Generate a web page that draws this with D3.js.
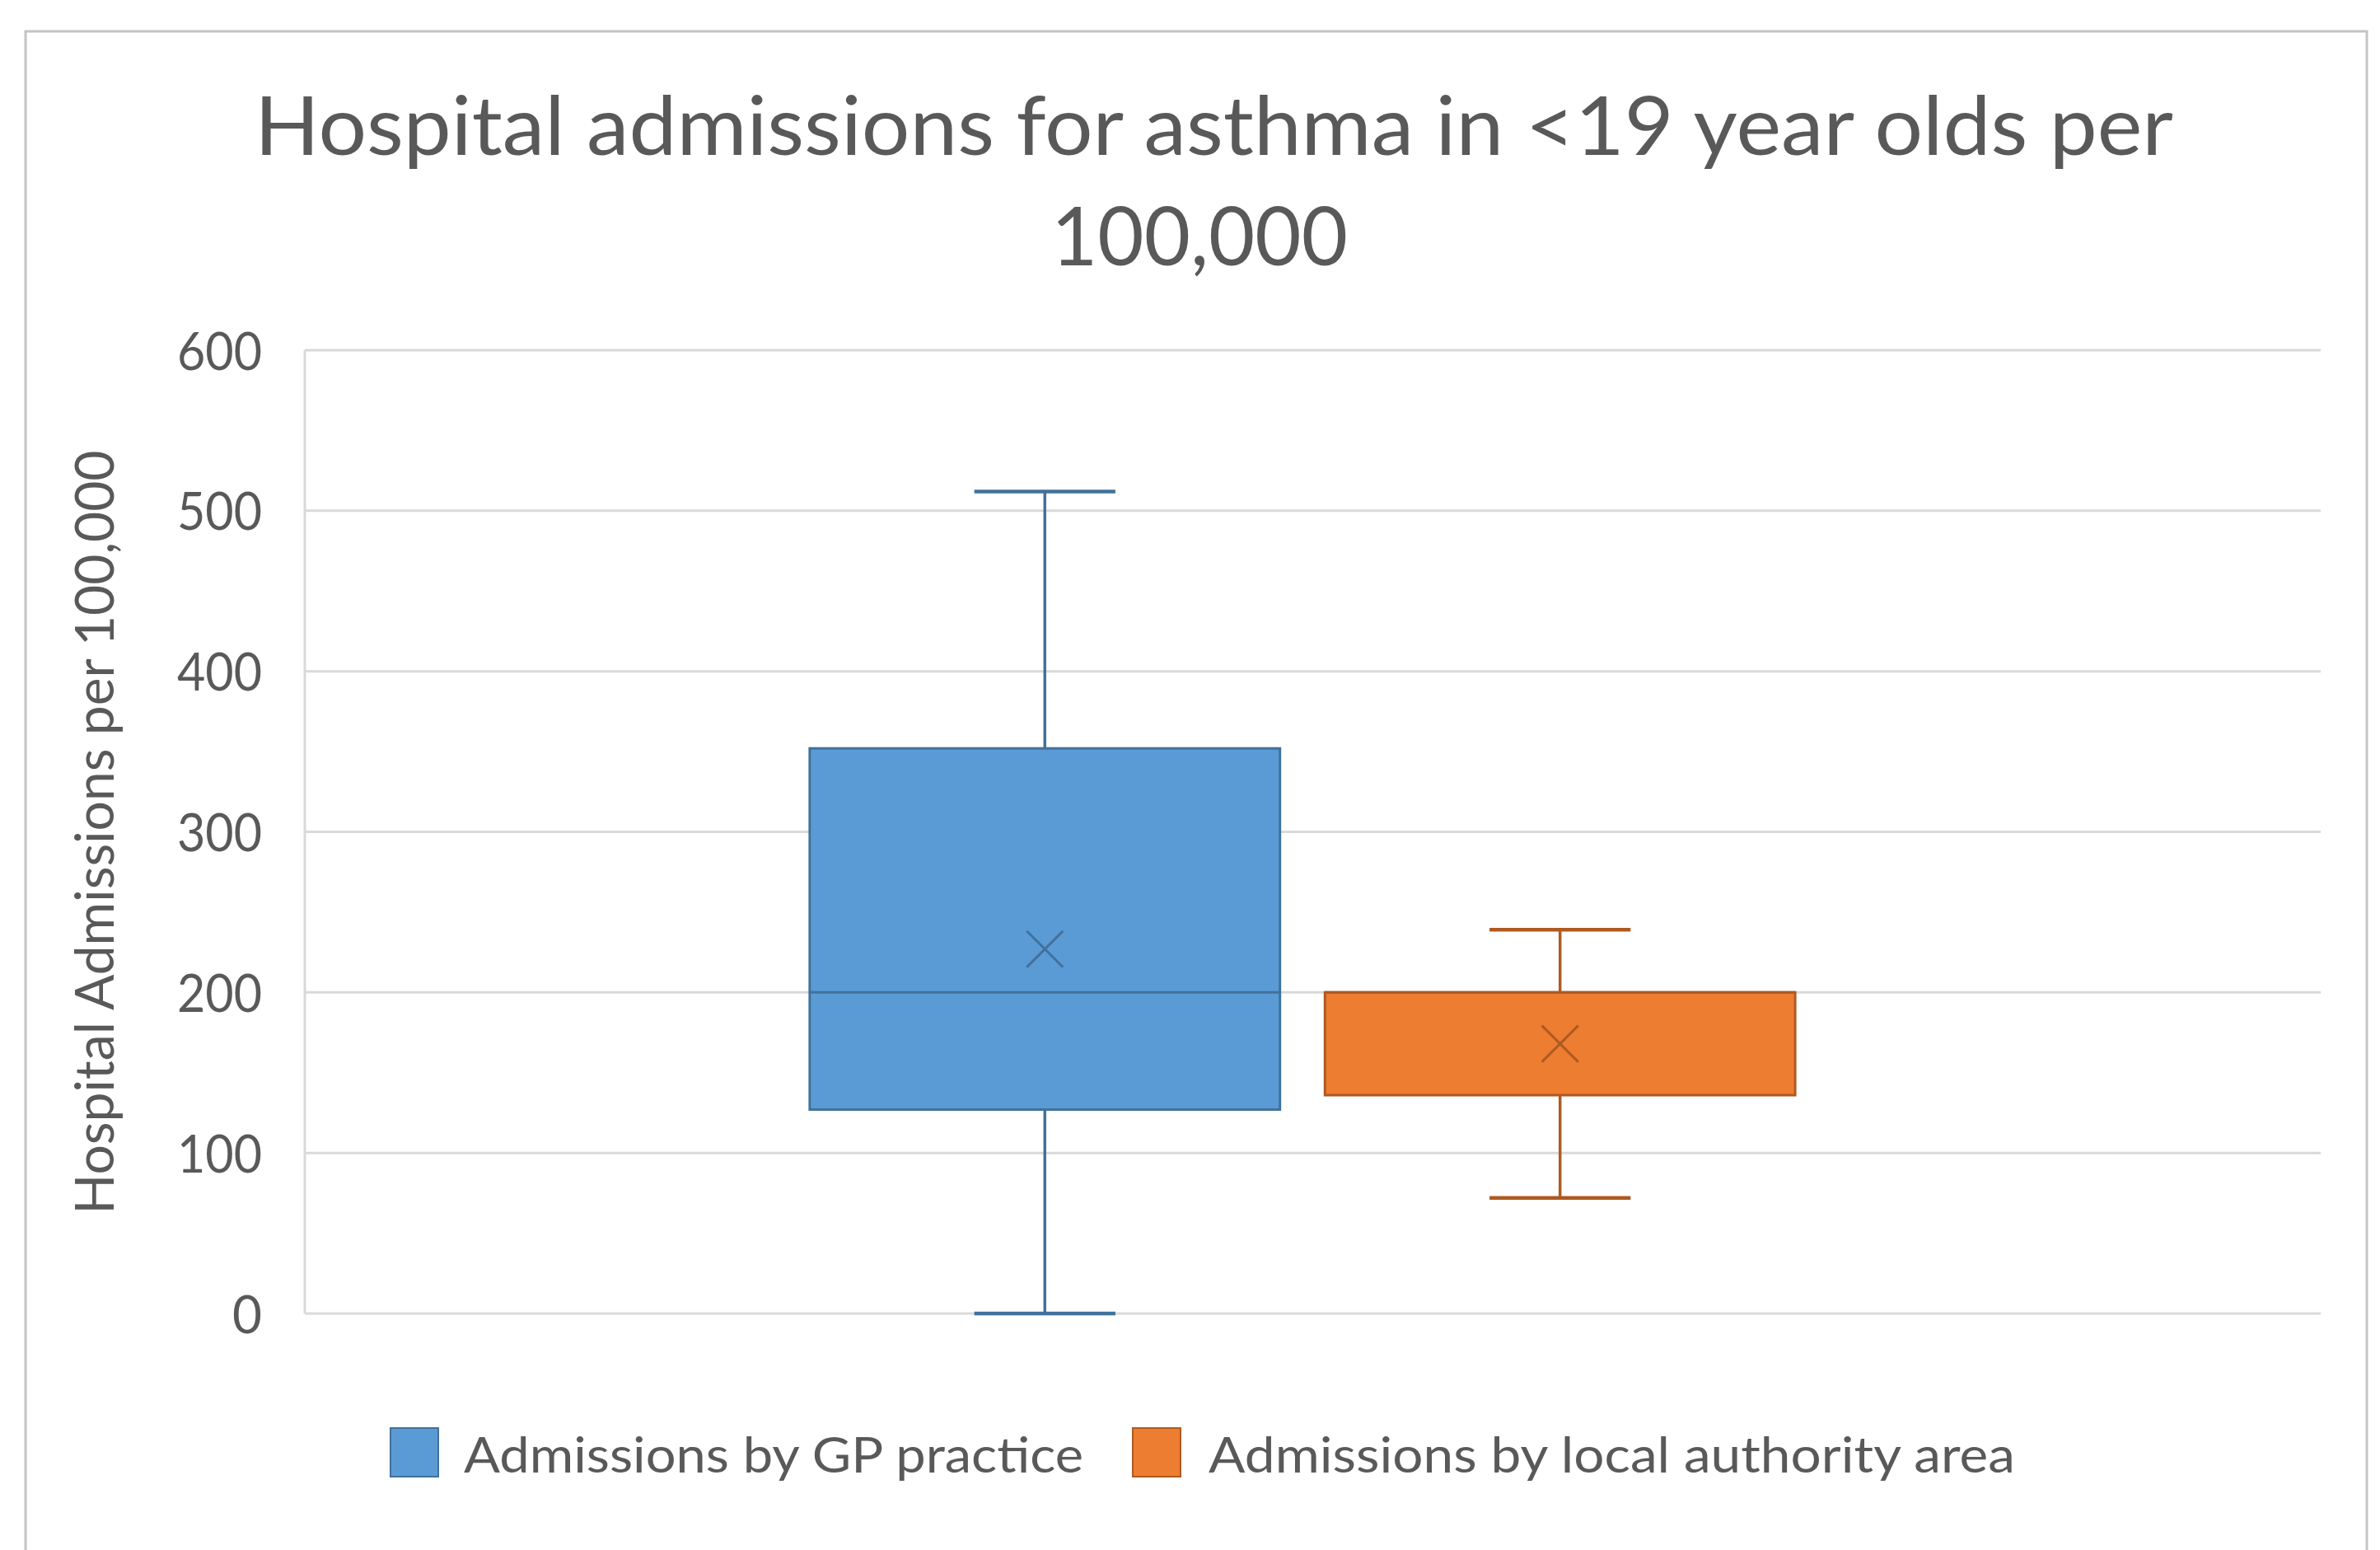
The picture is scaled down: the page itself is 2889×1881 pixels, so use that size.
<!DOCTYPE html>
<html>
<head>
<meta charset="utf-8">
<script src="https://cdn.jsdelivr.net/npm/d3@7"></script>
<style>
  html, body { margin: 0; padding: 0; background: #ffffff; }
  svg { display: block; }
  text { font-family: Lato, "Open Sans", sans-serif; fill: #595959; }
</style>
</head>
<body>
<script>
// ---- data ----
const categories = ["Admissions by GP practice", "Admissions by local authority area"];
const minValues    = [0, 72];
const q1Values     = [127, 136];
const medianValues = [200, 200];
const q3Values     = [352, 200];
const maxValues    = [512, 239];
const meanValues   = [227, 168];
const yTicks = [0, 100, 200, 300, 400, 500, 600];
const titleLines = ["Hospital admissions for asthma in <19 year olds per", "100,000"];
const yAxisTitle = "Hospital Admissions per 100,000";

// ---- styles ----
const fills   = ["#5B9BD5", "#ED7D31"];
const strokes = ["#41719C", "#AE5A21"];

const W = 2889, H = 1881;
const plot = { left: 370, right: 2817, top: 425, bottom: 1594 };

const svg = d3.select("body").append("svg").attr("width", W).attr("height", H);
svg.append("rect").attr("width", W).attr("height", H).attr("fill", "#fff");

// chart frame
svg.append("rect").attr("x", 31).attr("y", 38).attr("width", 2873 - 31).attr("height", H)
  .attr("fill", "#fff").attr("stroke", "#c4c4c4").attr("stroke-width", 3);

// title
svg.append("text").attr("x", 309).attr("y", 188).attr("font-size", 98)
  .attr("textLength", 2329).attr("lengthAdjust", "spacingAndGlyphs").text(titleLines[0]);
svg.append("text").attr("x", 1276).attr("y", 322).attr("font-size", 98)
  .attr("textLength", 360).attr("lengthAdjust", "spacingAndGlyphs").text(titleLines[1]);

// scales
const y = d3.scaleLinear().domain([0, 600]).range([plot.bottom, plot.top]);
const x = d3.scaleBand().domain(categories).range([plot.left, plot.right])
  .paddingInner(0.0873).paddingOuter(1.0).align(0.49);

// gridlines
svg.append("g").selectAll("line").data(yTicks).join("line")
  .attr("x1", plot.left).attr("x2", plot.right)
  .attr("y1", d => y(d)).attr("y2", d => y(d))
  .attr("stroke", "#d9d9d9").attr("stroke-width", 3);

// vertical axis line
svg.append("line").attr("x1", plot.left).attr("x2", plot.left)
  .attr("y1", plot.top).attr("y2", plot.bottom)
  .attr("stroke", "#d9d9d9").attr("stroke-width", 3);

// y axis ticks via d3 axis
const yAxis = svg.append("g").attr("transform", `translate(${plot.left},0)`)
  .call(d3.axisLeft(y).tickValues(yTicks).tickSize(0).tickPadding(52));
yAxis.select(".domain").remove();
yAxis.selectAll("text").attr("font-size", 64).attr("fill", "#595959")
  .style("font-family", "Lato, sans-serif")
  .attr("dy", "0.36em")
  .each(function(d) {
    const n = String(d).length;
    d3.select(this).attr("textLength", n === 1 ? 36 : 103).attr("lengthAdjust", "spacingAndGlyphs");
  });

// y axis title
svg.append("text").attr("transform", "translate(138,1010) rotate(-90)")
  .attr("text-anchor", "middle").attr("font-size", 66)
  .attr("textLength", 927).attr("lengthAdjust", "spacingAndGlyphs").text(yAxisTitle);

// boxes
const boxData = categories.map((c, i) => ({
  c, i, min: minValues[i], q1: q1Values[i], med: medianValues[i],
  q3: q3Values[i], max: maxValues[i], mean: meanValues[i]
}));
const bw = x.bandwidth();
const capW = bw * 0.3;
const g = svg.append("g").selectAll("g").data(boxData).join("g");

// whiskers
g.append("line").attr("x1", d => x(d.c) + bw / 2).attr("x2", d => x(d.c) + bw / 2)
  .attr("y1", d => y(d.q3)).attr("y2", d => y(d.max))
  .attr("stroke", d => strokes[d.i]).attr("stroke-width", 3.5);
g.append("line").attr("x1", d => x(d.c) + bw / 2).attr("x2", d => x(d.c) + bw / 2)
  .attr("y1", d => y(d.q1)).attr("y2", d => y(d.min))
  .attr("stroke", d => strokes[d.i]).attr("stroke-width", 3.5);
// caps
["max", "min"].forEach(k => {
  g.append("line").attr("x1", d => x(d.c) + bw / 2 - capW / 2).attr("x2", d => x(d.c) + bw / 2 + capW / 2)
    .attr("y1", d => y(d[k])).attr("y2", d => y(d[k]))
    .attr("stroke", d => strokes[d.i]).attr("stroke-width", 4.5);
});
// box
g.append("rect").attr("x", d => x(d.c)).attr("width", bw)
  .attr("y", d => y(d.q3)).attr("height", d => y(d.q1) - y(d.q3))
  .attr("fill", d => fills[d.i]).attr("stroke", d => strokes[d.i]).attr("stroke-width", 3);
// median
g.append("line").attr("x1", d => x(d.c)).attr("x2", d => x(d.c) + bw)
  .attr("y1", d => y(d.med)).attr("y2", d => y(d.med))
  .attr("stroke", d => strokes[d.i]).attr("stroke-width", 3);
// mean X
const xs = 22;
g.append("path")
  .attr("d", d => {
    const cx = x(d.c) + bw / 2, cy = y(d.mean);
    return `M${cx - xs},${cy - xs}L${cx + xs},${cy + xs}M${cx - xs},${cy + xs}L${cx + xs},${cy - xs}`;
  })
  .attr("stroke", d => strokes[d.i]).attr("stroke-width", 3).attr("fill", "none");

// legend
const legendItems = [
  { sx: 474, tx: 563, tl: 752 },
  { sx: 1375, tx: 1467, tl: 979 }
];
const lg = svg.append("g").selectAll("g").data(categories).join("g");
lg.append("rect").attr("x", (d, i) => legendItems[i].sx).attr("y", 1733)
  .attr("width", 58).attr("height", 59).attr("fill", (d, i) => fills[i])
  .attr("stroke", (d, i) => strokes[i]).attr("stroke-width", 2);
lg.append("text").attr("x", (d, i) => legendItems[i].tx).attr("y", 1787)
  .attr("font-size", 60)
  .attr("textLength", (d, i) => legendItems[i].tl).attr("lengthAdjust", "spacingAndGlyphs")
  .text(d => d);
</script>
</body>
</html>
